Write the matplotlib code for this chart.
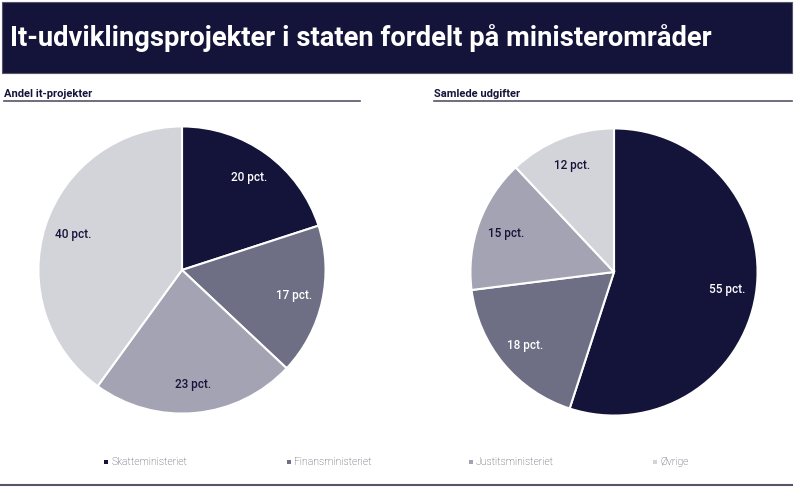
import matplotlib.pyplot as plt
from matplotlib.patches import Rectangle

# data
categories = ["Skatteministeriet", "Finansministeriet", "Justitsministeriet", "Øvrige"]
andel_projekter = [20, 17, 23, 40]
samlede_udgifter = [55, 18, 15, 12]
colors = ["#14143a", "#6e6e85", "#a3a3b3", "#d3d3da"]
text_colors = ["white", "white", "#14143a", "#14143a"]

TITLE = "It-udviklingsprojekter i staten fordelt på ministerområder"
NAVY = "#14143a"

plt.rcParams['font.family'] = ['Roboto', 'DejaVu Sans']

W, H = 797, 491
fig = plt.figure(figsize=(W / 100, H / 100), dpi=100)
fig.patch.set_facecolor("white")
renderer = fig.canvas.get_renderer()


def px(x, y, w, h):
    # pixel box (top-left origin) -> figure fraction
    return [x / W, 1 - (y + h) / H, w / W, h / H]


def fit_width(t, width_px):
    # shrink/grow font so the text spans roughly width_px (fonts here are wider than the original)
    bb = t.get_window_extent(renderer)
    t.set_fontsize(t.get_fontsize() * width_px / bb.width)


# title banner
fig.patches.append(Rectangle((2 / W, 1 - 73 / H), 790 / W, 71 / H,
                             transform=fig.transFigure, facecolor=NAVY,
                             edgecolor="#55556a", lw=0.8))
t = fig.text(10 / W, 1 - 38 / H, TITLE, color="white", fontsize=20,
             fontweight="bold", va="center", ha="left")
fit_width(t, 700)

# subtitles with underline
for x0, x1, label in [(4, 360, "Andel it-projekter"), (434, 792, "Samlede udgifter")]:
    fig.text(x0 / W, 1 - 97 / H, label, color=NAVY, fontsize=8,
             fontweight="bold", va="baseline", ha="left")
    fig.add_artist(plt.Line2D([x0 / W, x1 / W], [1 - 101 / H] * 2,
                              color="#55556a", lw=1.2))

# bottom rule
fig.add_artist(plt.Line2D([0, 792 / W], [1 - 485 / H] * 2, color="#55556a", lw=1.5))


def draw_pie(cx, cy, r, values):
    ax = fig.add_axes(px(cx - r, cy - r, 2 * r, 2 * r))
    wedges, texts = ax.pie(values, colors=colors, startangle=90, counterclock=False,
                           labels=[f"{v} pct." for v in values], labeldistance=0.8,
                           wedgeprops=dict(edgecolor="white", linewidth=1.5))
    for t, c in zip(texts, text_colors):
        t.set_color(c)
        t.set_fontsize(8.5)
        t.set_fontweight("medium")
        t.set_ha("center")
        t.set_va("center")
    ax.set_aspect("equal")
    ax.set_xlim(-1.01, 1.01)
    ax.set_ylim(-1.01, 1.01)
    ax.axis("off")


draw_pie(182, 270, 145, andel_projekter)
draw_pie(614, 272, 145, samlede_udgifter)

# legend
leg_x = [104, 287, 469, 653]
for x, name, c in zip(leg_x, categories, colors):
    fig.patches.append(Rectangle((x / W, 1 - 464 / H), 4 / W, 4 / H,
                                 transform=fig.transFigure, facecolor=c, edgecolor="none"))
    fig.text((x + 7) / W, 1 - 462 / H, name, color="#444455", fontsize=7.5,
             fontweight="light", va="center", ha="left")

fig.savefig("out.png", dpi=100)
